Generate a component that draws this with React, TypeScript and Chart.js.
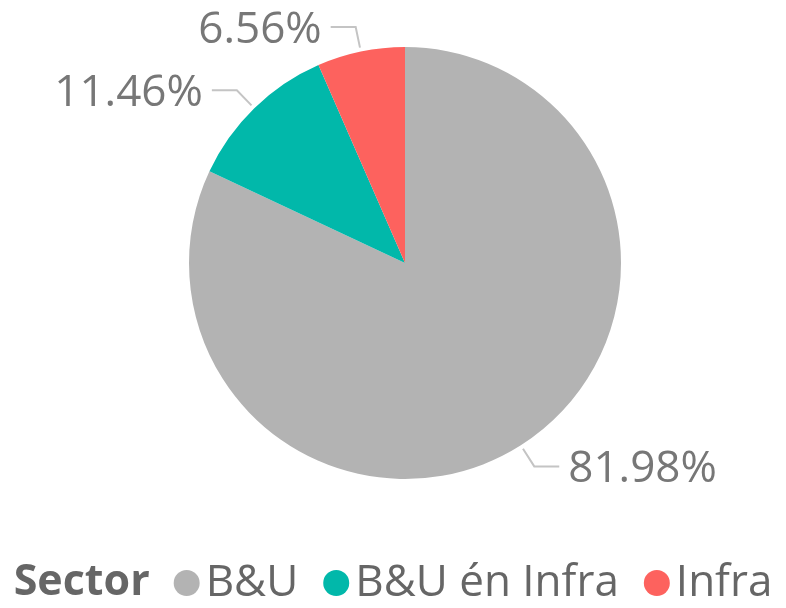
import React, { useEffect, useRef } from "react";
import { Chart, registerables } from "chart.js";

Chart.register(...registerables);

const categories = ["B&U", "B&U én Infra", "Infra"];
const values = [81.98, 11.46, 6.56];
const colors = ["#B3B3B3", "#01B8AA", "#FD625E"];
const legendTitle = "Sector";

const outLabels = {
  id: "outLabels",
  afterDraw(chart: any) {
    const ctx = chart.ctx as CanvasRenderingContext2D;
    const meta = chart.getDatasetMeta(0);
    ctx.save();
    meta.data.forEach((arc: any, i: number) => {
      const p = arc.getProps(["x", "y", "startAngle", "endAngle", "outerRadius"], true);
      const mid = (p.startAngle + p.endAngle) / 2;
      const c = Math.cos(mid);
      const s = Math.sin(mid);
      const r1 = p.outerRadius + 4;
      const r2 = p.outerRadius + 25;
      const x1 = p.x + c * r1, y1 = p.y + s * r1;
      const x2 = p.x + c * r2, y2 = p.y + s * r2;
      const dir = c >= 0 ? 1 : -1;
      const x3 = x2 + dir * 25;
      ctx.strokeStyle = "#C4C4C4";
      ctx.lineWidth = 2;
      ctx.beginPath();
      ctx.moveTo(x1, y1);
      ctx.lineTo(x2, y2);
      ctx.lineTo(x3, y2);
      ctx.stroke();
      ctx.fillStyle = "#777777";
      ctx.font = "44px 'Open Sans'";
      ctx.textAlign = dir > 0 ? "left" : "right";
      ctx.textBaseline = "middle";
      ctx.fillText(values[i].toFixed(2) + "%", x3 + dir * 9, y2 + 3);
    });

    // legend
    const ly = 583;
    const titleFont = "bold 43px 'Open Sans'";
    const itemFont = "44px 'Open Sans'";
    const rad = 13;
    ctx.font = titleFont;
    const tw = ctx.measureText(legendTitle).width;
    ctx.font = itemFont;
    const iw = categories.map((t) => ctx.measureText(t).width);
    const gapTitle = 24, gapDot = 6, gapItem = 25;
    let total = tw;
    iw.forEach((w, i) => {
      total += (i === 0 ? gapTitle : gapItem) + rad * 2 + gapDot + w;
    });
    let x = (chart.width - total) / 2;
    ctx.textAlign = "left";
    ctx.textBaseline = "middle";
    ctx.fillStyle = "#666666";
    ctx.font = titleFont;
    ctx.fillText(legendTitle, x, ly);
    x += tw;
    categories.forEach((t, i) => {
      x += i === 0 ? gapTitle : gapItem;
      ctx.fillStyle = colors[i];
      ctx.beginPath();
      ctx.arc(x + rad, ly, rad, 0, Math.PI * 2);
      ctx.fill();
      x += rad * 2 + gapDot;
      ctx.fillStyle = "#666666";
      ctx.font = itemFont;
      ctx.fillText(t, x, ly);
      x += iw[i];
    });
    ctx.restore();
  },
};

export default function App() {
  const ref = useRef<HTMLCanvasElement | null>(null);
  useEffect(() => {
    if (!ref.current) return;
    const chart = new Chart(ref.current, {
      type: "pie",
      data: {
        labels: categories,
        datasets: [
          {
            data: values,
            backgroundColor: colors,
            borderWidth: 0,
          },
        ],
      },
      options: {
        animation: false,
        responsive: true,
        maintainAspectRatio: false,
        layout: { padding: { top: 47, bottom: 129, left: 189, right: 165 } },
        plugins: {
          legend: { display: false },
          tooltip: { enabled: false },
        },
      },
      plugins: [outLabels],
    });
    return () => chart.destroy();
  }, []);
  return (
    <div style={{ position: "absolute", left: 0, top: 0, width: 786, height: 608, background: "#fff" }}>
      <canvas ref={ref} />
    </div>
  );
}
